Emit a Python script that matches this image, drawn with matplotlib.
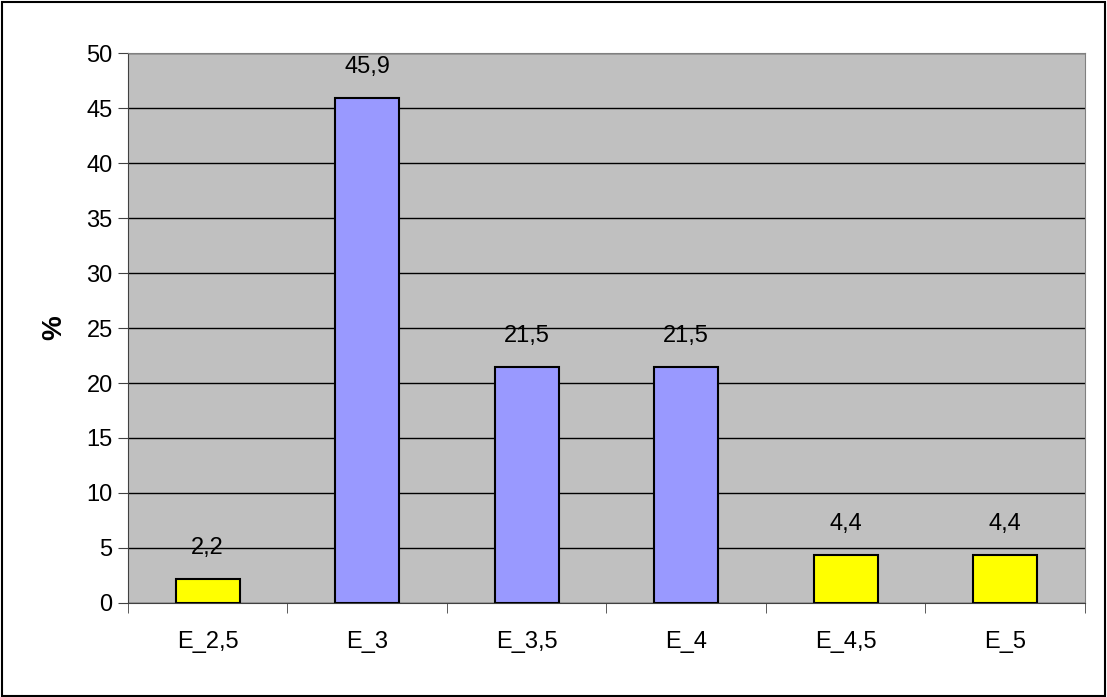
import matplotlib
matplotlib.use("Agg")
import matplotlib.pyplot as plt
from matplotlib.patches import Rectangle

categories = ['E_2,5', 'E_3', 'E_3,5', 'E_4', 'E_4,5', 'E_5']
values = [2.2, 45.9, 21.5, 21.5, 4.4, 4.4]
colors = ['#FFFF00', '#9999FF', '#9999FF', '#9999FF', '#FFFF00', '#FFFF00']

plt.rcParams['font.family'] = ['Liberation Sans', 'DejaVu Sans']

fig = plt.figure(figsize=(11.07, 6.97), dpi=100)
ax = fig.add_axes([0.1156, 0.1349, 0.8645, 0.789])
ax.set_facecolor('#C0C0C0')

x = range(len(categories))
bars = ax.bar(x, values, width=0.4, color=colors, edgecolor='black', linewidth=1.5, zorder=3)

for xi, v in zip(x, values):
    ax.annotate(f'{v:.1f}'.replace('.', ','), (xi, v), xytext=(0, 18),
                textcoords='offset points', ha='center', va='baseline', fontsize=17)

ax.set_xlim(-0.5, len(categories) - 0.5)
ax.set_ylim(0, 50)
ax.set_yticks(range(0, 51, 5))
ax.yaxis.grid(True, color='black', linewidth=1, zorder=0)
ax.set_axisbelow(True)

ax.set_xticks(x)
ax.set_xticklabels(categories)
ax.set_xticks([i - 0.5 for i in range(len(categories) + 1)], minor=True)
ax.tick_params(axis='x', which='major', length=0, pad=20, labelsize=17)
ax.tick_params(axis='x', which='minor', length=7, color='#404040')
ax.tick_params(axis='y', length=7, labelsize=17, pad=4, color='#404040')

for s in ['top', 'right']:
    ax.spines[s].set_color('#808080')
for s in ['left', 'bottom']:
    ax.spines[s].set_color('#404040')

ax.set_ylabel('%', fontsize=20, fontweight='bold', labelpad=14)

fig.patches.append(Rectangle((0.002, 0.002), 0.996, 0.995, transform=fig.transFigure,
                             fill=False, edgecolor='black', linewidth=1.5))

fig.savefig('out.png', dpi=100, facecolor='white')
